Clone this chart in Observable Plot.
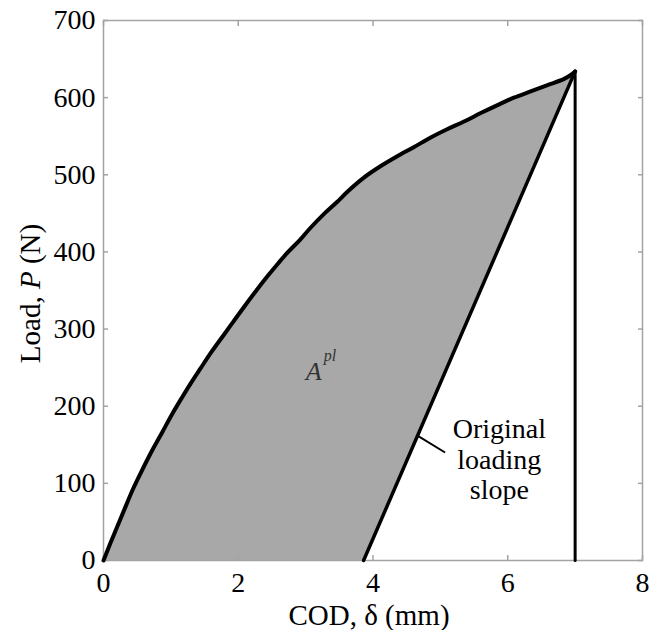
<!DOCTYPE html>
<html>
<head>
<meta charset="utf-8">
<script src="https://cdn.jsdelivr.net/npm/d3@7"></script>
<script src="https://cdn.jsdelivr.net/npm/@observablehq/plot@0.6"></script>
<style>
  html, body { margin: 0; padding: 0; background: #fff; }
</style>
</head>
<body>
<div id="chart"></div>
<script>
// Load–COD record
const codX  = [0, 0.10, 0.20, 0.30, 0.43, 0.55, 0.70, 0.87, 1.02, 1.17, 1.29, 1.44, 1.60, 1.79, 1.93, 2.08, 2.26, 2.43, 2.60, 2.73, 2.92, 3.07, 3.27, 3.47, 3.62, 3.86, 4.11, 4.36, 4.61, 4.85, 5.10, 5.35, 5.60, 5.84, 6.09, 6.34, 6.58, 6.83, 6.93, 7.00];
const loadP = [0, 22, 43, 64, 91, 113, 139, 166, 190, 212, 229, 249, 270, 293, 310, 328, 349, 368, 386, 399, 416, 431, 449, 465, 478, 496, 511, 524, 536, 548, 559, 569, 580, 590, 600, 608, 616, 624, 629, 634];

// Unloading along the original loading slope
const unloadX = [3.86, 7.00];
const unloadP = [0, 634];

// Vertical drop at the final COD
const dropX = [7.00, 7.00];
const dropP = [0, 634];

// Leader line for the annotation
const leaderX = [4.66, 5.07];
const leaderP = [162, 140];

const xTicks = [0, 2, 4, 6, 8];
const yTicks = [0, 100, 200, 300, 400, 500, 600, 700];

const xLabel = "COD, δ (mm)";
const yLabel = "Load, P (N)";
const slopeText = ["Original", "loading", "slope"];
const slopeAt = {x: 5.875, P: 131.6};
const areaMain = "A";
const areaSup = "pl";
const areaAt = {x: 3.0, P: 245};

const curve = codX.map((x, i) => ({x, P: loadP[i]}));
const unload = unloadX.map((x, i) => ({x, P: unloadP[i]}));
const drop = dropX.map((x, i) => ({x, P: dropP[i]}));
const leader = [{x1: leaderX[0], y1: leaderP[0], x2: leaderX[1], y2: leaderP[1]}];

const frameGray = "#a3a3a3";
const serif = "'Liberation Serif', 'Times New Roman', serif";

const chart = Plot.plot({
  width: 662,
  height: 630,
  marginLeft: 103,
  marginRight: 20,
  marginTop: 20,
  marginBottom: 70,
  x: {domain: [0, 8]},
  y: {domain: [0, 700]},
  style: {fontFamily: serif, background: "white", color: "black"},
  marks: [
    Plot.areaY(curve, {x: "x", y: "P", fill: "#a8a8a8", curve: "catmull-rom"}),
    Plot.areaY(unload, {x: "x", y: "P", fill: "white"}),
    Plot.frame({stroke: frameGray, strokeWidth: 1.5}),
    Plot.axisX(xTicks, {anchor: "bottom", tickSize: -5, tickPadding: 17, stroke: frameGray, strokeWidth: 1.5, fontSize: 28, fill: "black", label: null}),
    Plot.axisX(xTicks, {anchor: "top", tickSize: -5, tickFormat: () => "", stroke: frameGray, strokeWidth: 1.5, label: null}),
    Plot.axisY(yTicks, {anchor: "left", tickSize: -5, tickPadding: 13, stroke: frameGray, strokeWidth: 1.5, fontSize: 28, fill: "black", label: null}),
    Plot.axisY(yTicks, {anchor: "right", tickSize: -5, tickFormat: () => "", stroke: frameGray, strokeWidth: 1.5, label: null}),
    Plot.line(curve, {x: "x", y: "P", stroke: "black", strokeWidth: 4, strokeLinejoin: "round", curve: "catmull-rom"}),
    Plot.line(unload, {x: "x", y: "P", stroke: "black", strokeWidth: 3.5}),
    Plot.line(drop, {x: "x", y: "P", stroke: "black", strokeWidth: 3}),
    Plot.link(leader, {x1: "x1", y1: "y1", x2: "x2", y2: "y2", stroke: "black", strokeWidth: 2}),
    Plot.text([slopeText.join("\n")], {x: () => slopeAt.x, y: () => slopeAt.P, text: d => d, fontSize: 28, lineHeight: 1.08, textAnchor: "middle", lineAnchor: "middle", fill: "black"}),
    Plot.text([areaMain], {x: () => areaAt.x, y: () => areaAt.P, text: d => d, fontSize: 26, fontStyle: "italic", textAnchor: "start", fill: "#333"}),
    Plot.text([areaSup], {x: () => areaAt.x, y: () => areaAt.P, text: d => d, fontSize: 16, fontStyle: "italic", textAnchor: "start", dx: 18, dy: -16, fill: "#333"}),
    Plot.text([xLabel], {frameAnchor: "bottom", text: d => d, textAnchor: "middle", lineAnchor: "middle", dx: -4, dy: 55, fontSize: 29, fill: "black"}),
    Plot.text([yLabel], {frameAnchor: "left", text: d => d, rotate: -90, textAnchor: "middle", lineAnchor: "middle", dx: -73, dy: 3, fontSize: 29, fill: "black"})
  ]
});

document.getElementById("chart").appendChild(chart);

// italic P in the y label
d3.select(chart).selectAll("text").each(function () {
  const t = d3.select(this);
  if (t.text() === yLabel) {
    const parts = yLabel.split("P");
    t.text(null);
    t.append("tspan").text(parts[0]);
    t.append("tspan").attr("font-style", "italic").text("P");
    t.append("tspan").text(parts[1]);
  }
});
</script>
</body>
</html>
